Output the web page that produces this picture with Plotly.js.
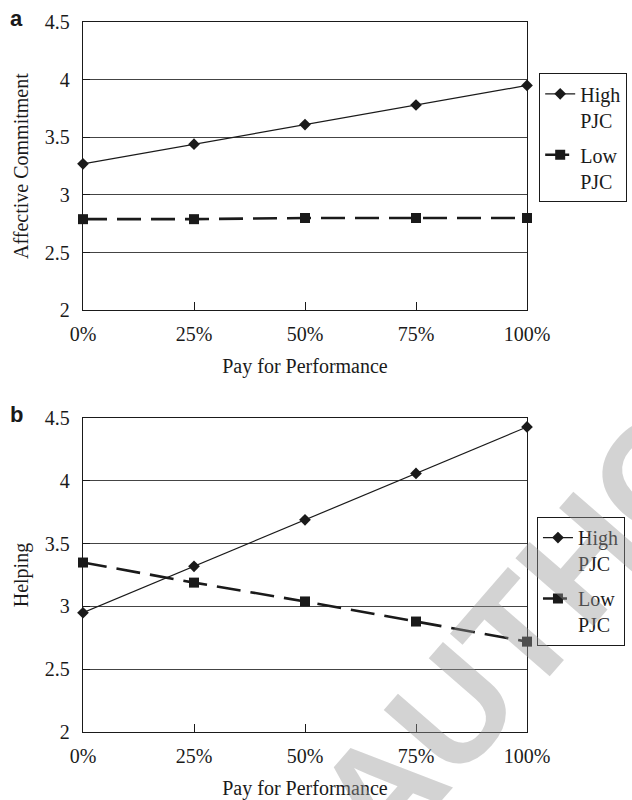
<!DOCTYPE html>
<html>
<head>
<meta charset="utf-8">
<script src="https://cdn.plot.ly/plotly-3.0.1.min.js"></script>
<style>
html,body{margin:0;padding:0;background:#fff;}
#chart{width:632px;height:800px;}
</style>
</head>
<body>
<div id="chart"></div>
<script>
// ---- data ----
const xLabels = ['0%', '25%', '50%', '75%', '100%'];
const seriesNames = ['High<br>PJC', 'Low<br>PJC'];
const commitHigh = [3.27, 3.44, 3.61, 3.78, 3.95];
const commitLow = [2.79, 2.79, 2.80, 2.80, 2.80];
const helpHigh = [2.95, 3.32, 3.69, 4.06, 4.43];
const helpLow = [3.35, 3.19, 3.04, 2.88, 2.72];
const yTickVals = [2, 2.5, 3, 3.5, 4, 4.5];
const yTickText = ['2', '2.5', '3', '3.5', '4', '4.5'];
const panelTitlesY = ['Affective Commitment', 'Helping'];
const xTitle = 'Pay for Performance';
const panelLetters = ['a', 'b'];
const watermark = 'AUTHOR';

const serif = 'Liberation Serif';
const sans = 'Liberation Sans';
const ink = '#1a1a1a';

function highTrace(y, xa, ya, leg) {
  return {
    x: xLabels, y: y, xaxis: xa, yaxis: ya, legend: leg,
    name: seriesNames[0], type: 'scatter', mode: 'lines+markers',
    line: {color: ink, width: 1.2},
    marker: {symbol: 'diamond', size: 9, color: ink},
    cliponaxis: false, legendgroup: 'h'
  };
}
function lowTrace(y, xa, ya, leg) {
  return {
    x: xLabels, y: y, xaxis: xa, yaxis: ya, legend: leg,
    name: seriesNames[1], type: 'scatter', mode: 'lines+markers',
    line: {color: ink, width: 2.6, dash: '24px,10px'},
    marker: {symbol: 'square', size: 10, color: ink},
    cliponaxis: false, legendgroup: 'l'
  };
}

const data = [
  highTrace(commitHigh, 'x', 'y', 'legend'),
  lowTrace(commitLow, 'x', 'y', 'legend'),
  highTrace(helpHigh, 'x2', 'y2', 'legend2'),
  lowTrace(helpLow, 'x2', 'y2', 'legend2')
];

function xAxis(anchor) {
  return {
    anchor: anchor, type: 'category', range: [0, 4],
    showline: true, mirror: true, linecolor: ink, linewidth: 1.2,
    ticks: 'inside', ticklen: 8, tickcolor: ink, tickwidth: 1,
    showgrid: false, zeroline: false,
    tickfont: {family: serif, size: 20, color: ink},
    ticklabelstandoff: 6,
    title: {text: xTitle, font: {family: serif, size: 20, color: ink}, standoff: 14}
  };
}
function yAxis(anchor, domain, title) {
  return {
    anchor: anchor, domain: domain, range: [2, 4.5],
    tickvals: yTickVals, ticktext: yTickText,
    showline: true, mirror: true, linecolor: ink, linewidth: 1.2,
    ticks: 'inside', ticklen: 7, tickcolor: ink,
    showgrid: true, gridcolor: '#444', gridwidth: 1, zeroline: false,
    tickfont: {family: serif, size: 20, color: ink},
    ticklabelstandoff: 8,
    title: {text: title, font: {family: serif, size: 20, color: ink}, standoff: 10}
  };
}

const legendBase = {
  xref: 'paper', yref: 'paper', xanchor: 'left', yanchor: 'top',
  bgcolor: 'rgba(255,255,255,0)', bordercolor: ink, borderwidth: 1.2,
  font: {family: serif, size: 20, color: ink},
  traceorder: 'grouped', tracegroupgap: 6, valign: 'top'
};

const layout = {
  width: 632, height: 800,
  margin: {l: 83, r: 105, t: 22, b: 68, autoexpand: false},
  paper_bgcolor: 'rgba(0,0,0,0)', plot_bgcolor: 'rgba(0,0,0,0)',
  showlegend: true,
  xaxis: xAxis('y'),
  yaxis: yAxis('x', [0.594, 1], panelTitlesY[0]),
  xaxis2: xAxis('y2'),
  yaxis2: yAxis('x2', [0, 0.442], panelTitlesY[1]),
  legend: Object.assign({}, legendBase, {x: 1.027, y: 0.928}),
  legend2: Object.assign({}, legendBase, {x: 1.022, y: 0.303}),
  annotations: [
    {text: '<b>' + panelLetters[0] + '</b>', xref: 'paper', yref: 'paper', x: -0.17, y: 1.005,
     xanchor: 'left', yanchor: 'middle', showarrow: false,
     font: {family: sans, size: 22, color: ink}},
    {text: '<b>' + panelLetters[1] + '</b>', xref: 'paper', yref: 'paper', x: -0.17, y: 0.447,
     xanchor: 'left', yanchor: 'middle', showarrow: false,
     font: {family: sans, size: 22, color: ink}},
    {text: '<b>' + watermark + '</b>', xref: 'paper', yref: 'paper', x: 1.065, y: 0.2,
     xanchor: 'center', yanchor: 'middle', showarrow: false, textangle: -49,
     font: {family: sans, size: 150, color: 'rgba(150,150,150,0.42)'}}
  ]
};

Plotly.newPlot('chart', data, layout, {displayModeBar: false, staticPlot: true});
</script>
</body>
</html>
